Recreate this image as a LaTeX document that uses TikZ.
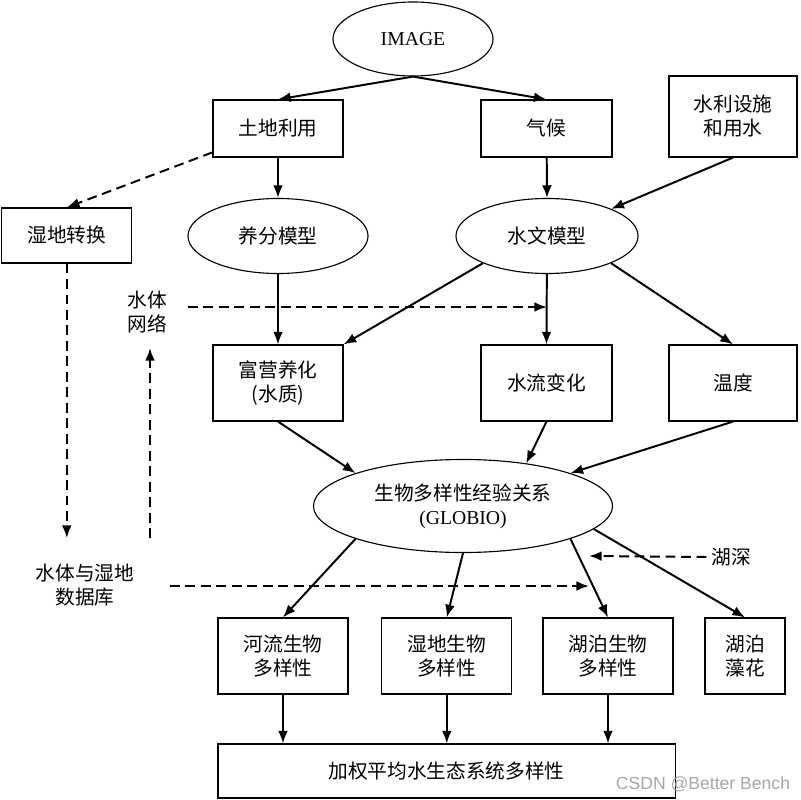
\documentclass[tikz,border=0pt]{standalone}
\usepackage{fontspec}
\setmainfont{Liberation Serif}
\newfontfamily\cjk{Noto Sans CJK SC}
\newfontfamily\wmfont{Liberation Sans}
\usetikzlibrary{shapes.geometric,arrows.meta,positioning}

\tikzset{
	box/.style={draw,line width=0.8pt,minimum width=3.25cm,minimum height=1.9cm,align=center,inner sep=2pt},
	oval/.style={draw,ellipse,line width=0.8pt,minimum width=4.5cm,minimum height=1.875cm,align=center,inner sep=0pt},
	arr/.style={-{Latex[length=9pt,width=7pt]},line width=1.4pt},
	darr/.style={arr,dash pattern=on 7pt off 4pt},
}

\begin{document}
\begin{tikzpicture}[x=0.025cm,y=-0.025cm,font=\fontsize{14pt}{17pt}\selectfont]
	\useasboundingbox (0,0) rectangle (800,800);
	% models and inputs
	\node[oval,minimum width=4cm,minimum height=1.85cm] (img) at (413,39) {IMAGE};
	\node[box,minimum height=1.425cm] (land) at (278,128.5) {\cjk 土地利用};
	\node[box,minimum width=3.275cm,minimum height=1.425cm] (clim) at (546.5,128.5) {\cjk 气候};
	\node[box,minimum width=3.2cm,minimum height=2.025cm] (hydro) at (733,116.5) {\cjk 水利设施\\\cjk 和用水};
	\node[box,minimum width=3.25cm,minimum height=1.375cm] (wet) at (66.8,235.5) {\cjk 湿地转换};
	\node[oval] (nutr) at (278,236) {\cjk 养分模型};
	\node[oval,minimum width=4.55cm] (hymod) at (547,236) {\cjk 水文模型};
	\node[align=center] (net) at (147,312) {\cjk 水体\\\cjk 网络};
	% pressures
	\node[box] (eutr) at (278,383) {\cjk 富营养化\\\cjk (水质)};
	\node[box,minimum width=3.275cm] (flow) at (546.5,383) {\cjk 水流变化};
	\node[box,minimum width=3.2cm] (temp) at (733,383) {\cjk 温度};
	\node[oval,minimum width=7.475cm,minimum height=2.325cm] (globio) at (463,506) {\cjk 生物多样性经验关系\\(GLOBIO)};
	\node[align=center] (db) at (85,585) {\cjk 水体与湿地\\\cjk 数据库};
	\node (depth) at (731,557) {\cjk 湖深};
	% biodiversity
	\node[box,minimum width=3.25cm] (river) at (283,656) {\cjk 河流生物\\\cjk 多样性};
	\node[box,minimum width=3.25cm] (wetbio) at (446.8,656) {\cjk 湿地生物\\\cjk 多样性};
	\node[box,minimum width=3.25cm] (lakebio) at (608,656) {\cjk 湖泊生物\\\cjk 多样性};
	\node[box,minimum width=2cm] (algae) at (745,656) {\cjk 湖泊\\\cjk 藻花};
	\node[box,minimum width=11.425cm,minimum height=1.35cm] (total) at (446.5,771) {\cjk 加权平均水生态系统多样性};
	\node[text=black!35,font=\wmfont\fontsize{12.5pt}{14pt}\selectfont] (mark) at (703,784) {CSDN @Better Bench};

	\coordinate (netL) at (188,307);
	\coordinate (wetE) at (66.8,538);
	\coordinate (upS) at (150,538);
	\coordinate (upE) at (150,348);
	\coordinate (dbL) at (170,586);
	\coordinate (dbR) at (589,586);
	\coordinate (dpE) at (589,556);

	\draw[arr] (img.south) -- (land.north);
	\draw[arr] (img.south) -- (clim.north);
	\draw[arr] (land) -- (nutr.north);
	\draw[arr] (clim) -- (hymod.north);
	\draw[arr] (hydro.south) -- (hymod);
	\draw[arr] (nutr) -- (eutr.north);
	\draw[arr] (hymod.203) -- (eutr.north east);
	\draw[arr] (hymod) -- (flow.north);
	\draw[arr] (hymod.-23) -- (temp.north);
	\draw[arr] (eutr.south) -- (globio.163);
	\draw[arr] (flow.south) -- (globio.34);
	\draw[arr] (temp.south) -- (globio.17);
	\draw[arr] (globio.197) -- (river.north);
	\draw[arr] (globio.south) -- (wetbio.north);
	\draw[arr] (globio.-17) -- (lakebio.north);
	\draw[arr] (globio.-10) -- (algae.north);
	\draw[arr] (river) -- (river |- total.north);
	\draw[arr] (wetbio) -- (wetbio |- total.north);
	\draw[arr] (lakebio) -- (lakebio |- total.north);

	\draw[darr] (land.200) -- (wet.north);
	\draw[darr] (wet.south) -- (wetE);
	\draw[darr] (upS) -- (upE);
	\draw[darr] (netL) -- (netL -| hymod.south);
	\draw[darr] (dbL) -- (dbR);
	\draw[darr] (depth.west) -- (dpE);
\end{tikzpicture}
\end{document}
